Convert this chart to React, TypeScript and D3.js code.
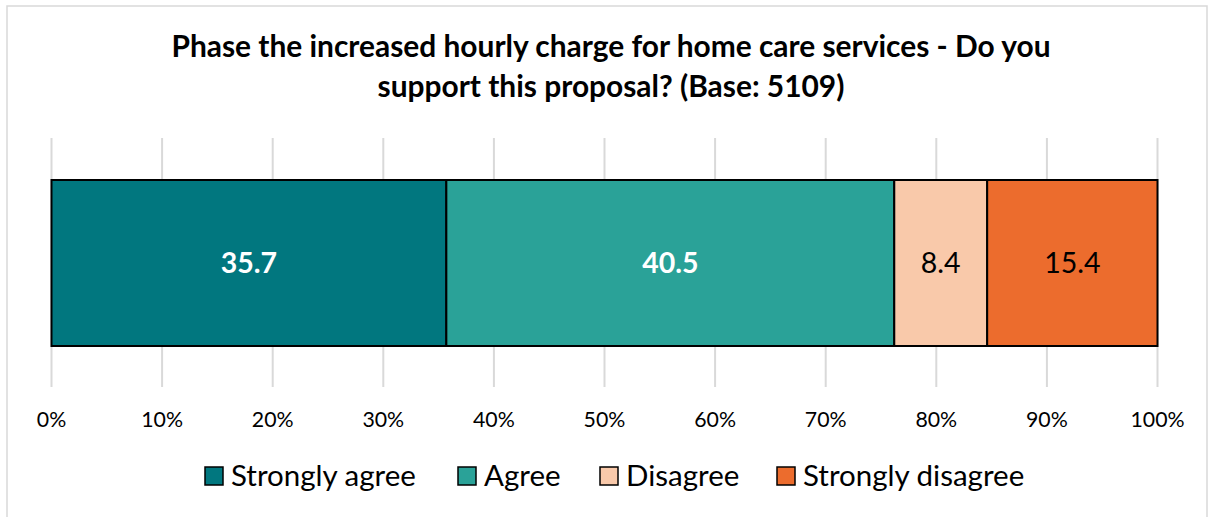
import React from "react";
import * as d3 from "d3";

const categories = ["Strongly agree", "Agree", "Disagree", "Strongly disagree"];
const values = [35.7, 40.5, 8.4, 15.4];
const colors = ["#01777F", "#2AA298", "#F9C9AA", "#EC6C2D"];
const labelColors = ["#FFFFFF", "#FFFFFF", "#000000", "#000000"];
const labelWeights = ["bold", "bold", "normal", "normal"];
const ticks = [0, 10, 20, 30, 40, 50, 60, 70, 80, 90, 100];
const titleLines = [
  "Phase the increased hourly charge for home care services - Do you",
  "support this proposal? (Base: 5109)",
];

const W = 1211;
const H = 517;
const FONT = "Lato, 'Open Sans', sans-serif";

export default function App() {
  const x = d3.scaleLinear().domain([0, 100]).range([51.5, 1157.5]);
  const barTop = 180;
  const barBottom = 346;
  let cum = 0;
  const segs = values.map((v, i) => {
    const s = { x0: cum, x1: cum + v, v, i };
    cum += v;
    return s;
  });

  const legendX = [205, 458, 600, 777];

  return (
    <svg width={W} height={H} style={{ position: "absolute", left: 0, top: 0 }}>
      <rect x={7} y={6} width={1200} height={520} fill="#fff" stroke="#d9d9d9" strokeWidth={1.5} />
      {titleLines.map((t, i) => (
        <text key={i} x={611} y={57 + i * 40} textAnchor="middle" fontFamily={FONT} fontWeight="bold" fontSize={29.9} fill="#000">
          {t}
        </text>
      ))}
      {ticks.map((t) => (
        <line key={t} x1={x(t)} x2={x(t)} y1={138} y2={387} stroke="#d9d9d9" strokeWidth={2} />
      ))}
      {segs.map((s) => (
        <rect key={s.i} x={x(s.x0)} y={barTop} width={x(s.x1) - x(s.x0)} height={barBottom - barTop} fill={colors[s.i]} stroke="#000" strokeWidth={2} />
      ))}
      {segs.map((s) => (
        <text key={"l" + s.i} x={(x(s.x0) + x(s.x1)) / 2} y={(barTop + barBottom) / 2 + 10} textAnchor="middle" fontFamily={FONT} fontSize={28.5} fontWeight={labelWeights[s.i]} fill={labelColors[s.i]}>
          {s.v.toFixed(1)}
        </text>
      ))}
      {ticks.map((t) => (
        <text key={"t" + t} x={x(t)} y={427} textAnchor="middle" fontFamily={FONT} fontSize={21.3} fill="#000">
          {t + "%"}
        </text>
      ))}
      {categories.map((c, i) => (
        <g key={c} transform={`translate(${legendX[i]},467)`}>
          <rect x={0} y={0} width={18} height={18} fill={colors[i]} stroke="#000" strokeWidth={1.5} />
          <text x={26} y={19} fontFamily={FONT} fontSize={29.5} fill="#000">
            {c}
          </text>
        </g>
      ))}
    </svg>
  );
}
